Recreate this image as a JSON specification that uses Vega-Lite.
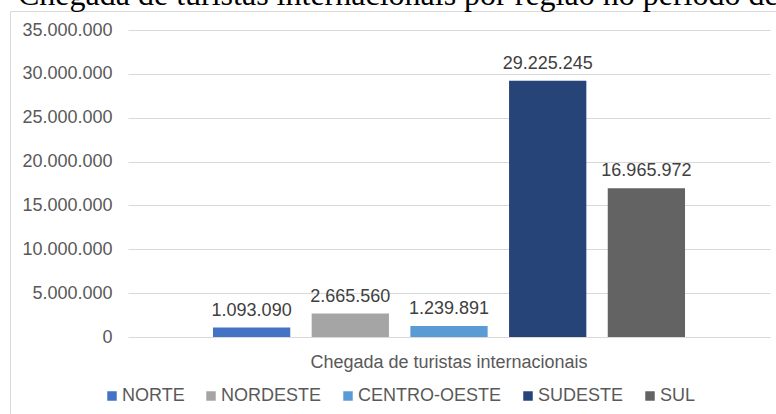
{
  "$schema": "https://vega.github.io/schema/vega-lite/v6.json",
  "width": 642,
  "height": 307,
  "autosize": {"type": "none"},
  "padding": {"left": 128, "top": 30, "right": 6, "bottom": 77},
  "background": "white",
  "config": {
    "locale": {"number": {"decimal": ",", "thousands": ".", "grouping": [3], "currency": ["R$ ", ""]}},
    "view": {"stroke": null},
    "font": "Liberation Sans"
  },
  "title": {
    "text": "Chegada de turistas internacionais por região no período de",
    "anchor": "start",
    "frame": "group",
    "orient": "top",
    "offset": 0,
    "dx": -110,
    "dy": 26,
    "baseline": "alphabetic",
    "font": "Liberation Serif",
    "fontSize": 32,
    "fontWeight": "normal",
    "color": "#000000"
  },
  "data": {
    "values": [
      {"grupo": "Chegada de turistas internacionais", "regiao": "NORTE", "turistas": 1093090},
      {"grupo": "Chegada de turistas internacionais", "regiao": "NORDESTE", "turistas": 2665560},
      {"grupo": "Chegada de turistas internacionais", "regiao": "CENTRO-OESTE", "turistas": 1239891},
      {"grupo": "Chegada de turistas internacionais", "regiao": "SUDESTE", "turistas": 29225245},
      {"grupo": "Chegada de turistas internacionais", "regiao": "SUL", "turistas": 16965972}
    ]
  },
  "encoding": {
    "x": {
      "field": "grupo",
      "type": "nominal",
      "scale": {"paddingInner": 0, "paddingOuter": 0.18},
      "axis": {
        "title": null,
        "labelAngle": 0,
        "labelFontSize": 18,
        "labelColor": "#595959",
        "ticks": false,
        "domain": false,
        "labelPadding": 30,
        "labelBaseline": "alphabetic",
        "labelLimit": 0
      }
    },
    "xOffset": {
      "field": "regiao",
      "type": "nominal",
      "sort": ["NORTE", "NORDESTE", "CENTRO-OESTE", "SUDESTE", "SUL"],
      "scale": {"paddingInner": 0.217, "paddingOuter": 0}
    },
    "y": {
      "field": "turistas",
      "type": "quantitative",
      "scale": {"domain": [0, 35000000], "nice": false},
      "axis": {
        "title": null,
        "values": [0, 5000000, 10000000, 15000000, 20000000, 25000000, 30000000, 35000000],
        "format": ",d",
        "labelFontSize": 18,
        "labelColor": "#595959",
        "labelPadding": 16,
        "ticks": false,
        "domain": false,
        "gridColor": "#D9D9D9",
        "gridWidth": 1.2
      }
    }
  },
  "layer": [
    {
      "mark": {"type": "bar"},
      "encoding": {
        "color": {
          "field": "regiao",
          "type": "nominal",
          "scale": {
            "domain": ["NORTE", "NORDESTE", "CENTRO-OESTE", "SUDESTE", "SUL"],
            "range": ["#4472C4", "#A5A5A5", "#5B9BD5", "#264478", "#636363"]
          },
          "legend": {
            "title": " ",
            "titleFontSize": 10,
            "titlePadding": 273,
            "orient": "none",
            "legendX": -118,
            "legendY": -19,
            "direction": "horizontal",
            "columns": 5,
            "symbolType": "square",
            "symbolSize": 90,
            "symbolStrokeWidth": 0,
            "symbolOpacity": 1,
            "labelFontSize": 18,
            "labelColor": "#595959",
            "labelOffset": 1,
            "columnPadding": 17,
            "strokeColor": "#D9D9D9",
            "padding": 93
          }
        }
      }
    },
    {
      "mark": {"type": "text", "dy": -11.7, "baseline": "alphabetic", "fontSize": 18, "color": "#404040"},
      "encoding": {
        "text": {"field": "turistas", "type": "quantitative", "format": ",d"}
      }
    }
  ]
}
